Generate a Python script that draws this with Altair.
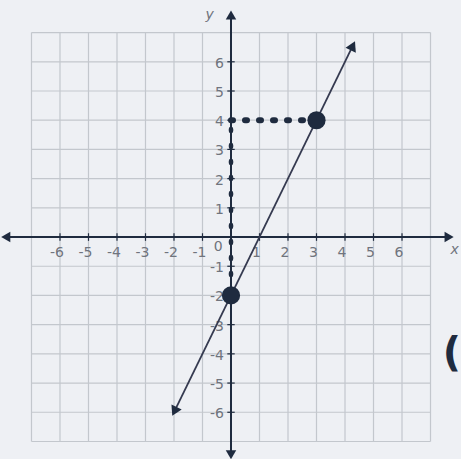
import altair as alt
import pandas as pd

# Coordinate plane: grid from -7 to 7, labelled ticks from -6 to 6
grid_values = list(range(-7, 8))
tick_values = [-6, -5, -4, -3, -2, -1, 1, 2, 3, 4, 5, 6]

# Line y = 2x - 2 drawn between its two arrowheads
line_x = [-1.96, 4.25]
line_y = [-5.92, 6.5]

# Highlighted points on the line
point_x = [0, 3]
point_y = [-2, 4]

# Dotted guide lines from the point (3, 4) to the y-axis and down the axis
guide_h_x = [0, 3]
guide_h_y = [4, 4]
guide_v_x = [0, 0]
guide_v_y = [-1.3, 4]

INK = "#1f2b3f"
GRID = "#c3c7cd"
LABEL = "#70747d"
BG = "#eef0f4"

xs = alt.Scale(domain=[-8.105, 8.07], nice=False, zero=False)
ys = alt.Scale(domain=[-7.60, 8.116], nice=False, zero=False)


def X(field="x"):
    return alt.X(field, type="quantitative", scale=xs, axis=None)


def Y(field="y"):
    return alt.Y(field, type="quantitative", scale=ys, axis=None)


# Grid lines
vgrid = pd.DataFrame({"x": grid_values, "y": -7.0, "y2": 7.0})
hgrid = pd.DataFrame({"y": grid_values, "x": -7.0, "x2": 7.0})
grid_v = alt.Chart(vgrid).mark_rule(color=GRID, strokeWidth=1.2).encode(
    x=X(), y=Y(), y2="y2:Q"
)
grid_h = alt.Chart(hgrid).mark_rule(color=GRID, strokeWidth=1.2).encode(
    y=Y(), x=X(), x2="x2:Q"
)

# Axes
x_axis = alt.Chart(pd.DataFrame({"x": [-7.85], "x2": [7.6], "y": [0]})).mark_rule(
    color=INK, strokeWidth=2
).encode(x=X(), x2="x2:Q", y=Y())
y_axis = alt.Chart(pd.DataFrame({"x": [0], "y": [-7.4], "y2": [7.55]})).mark_rule(
    color=INK, strokeWidth=2
).encode(x=X(), y=Y(), y2="y2:Q")

# Axis arrowheads
arrows = pd.DataFrame(
    {
        "x": [-7.85, 7.6, 0, 0],
        "y": [0, 0, 7.55, -7.4],
        "angle": [270, 90, 0, 180],
    }
)
axis_arrows = alt.Chart(arrows).mark_point(
    shape="triangle", filled=True, color=INK, size=110, opacity=1
).encode(x=X(), y=Y(), angle=alt.Angle("angle:Q", scale=None))

# Tick marks
xt = pd.DataFrame({"x": tick_values, "y": -0.13, "y2": 0.13})
yt = pd.DataFrame({"y": tick_values, "x": -0.13, "x2": 0.13})
x_ticks = alt.Chart(xt).mark_rule(color=INK, strokeWidth=1.2).encode(
    x=X(), y=Y(), y2="y2:Q"
)
y_ticks = alt.Chart(yt).mark_rule(color=INK, strokeWidth=1.2).encode(
    y=Y(), x=X(), x2="x2:Q"
)

# Tick labels
xl = pd.DataFrame({"x": tick_values, "y": -0.55, "t": [str(v) for v in tick_values]})
yl = pd.DataFrame({"y": tick_values, "x": -0.25, "t": [str(v) for v in tick_values]})
x_labels = alt.Chart(xl).mark_text(
    font="DejaVu Sans", fontSize=14, color=LABEL, align="center", baseline="middle", dx=-3
).encode(x=X(), y=Y(), text="t:N")
y_labels = alt.Chart(yl).mark_text(
    font="DejaVu Sans", fontSize=14, color=LABEL, align="right", baseline="middle", dy=2
).encode(x=X(), y=Y(), text="t:N")
origin_label = alt.Chart(pd.DataFrame({"x": [-0.45], "y": [-0.35], "t": ["0"]})).mark_text(
    font="DejaVu Sans", fontSize=14, color=LABEL, align="center", baseline="middle"
).encode(x=X(), y=Y(), text="t:N")

# Axis names
names = pd.DataFrame({"x": [-0.75, 7.85], "y": [7.6, -0.45], "t": ["y", "x"]})
axis_names = alt.Chart(names).mark_text(
    font="DejaVu Sans", fontSize=14, fontStyle="italic", color=LABEL, align="center",
    baseline="middle"
).encode(x=X(), y=Y(), text="t:N")

# The graphed line and its arrowheads
ld = pd.DataFrame({"x": line_x, "y": line_y})
graph_line = alt.Chart(ld).mark_line(color="#353a50", strokeWidth=1.8).encode(
    x=X(), y=Y()
)
line_arrows = alt.Chart(
    pd.DataFrame({"x": line_x, "y": line_y, "angle": [206, 26]})
).mark_point(shape="triangle", filled=True, color=INK, size=130, opacity=1).encode(
    x=X(), y=Y(), angle=alt.Angle("angle:Q", scale=None)
)

# Dotted guides
gh = alt.Chart(pd.DataFrame({"x": guide_h_x, "y": guide_h_y})).mark_line(
    color=INK, strokeWidth=6, strokeDash=[2, 12], strokeCap="round"
).encode(x=X(), y=Y())
gv = alt.Chart(pd.DataFrame({"x": guide_v_x, "y": guide_v_y})).mark_line(
    color=INK, strokeWidth=4.5, strokeDash=[2, 14], strokeCap="round"
).encode(x=X(), y=Y(), order=alt.Order("y:Q"))

# Plotted points
pts = alt.Chart(pd.DataFrame({"x": point_x, "y": point_y})).mark_circle(
    color=INK, size=330, opacity=1
).encode(x=X(), y=Y())

# Bracket at the right margin
paren = alt.Chart(pd.DataFrame({"x": [8.07], "y": [-4.0], "t": ["("]})).mark_text(
    font="DejaVu Sans", fontSize=40, fontWeight="bold", color=INK, align="right",
    baseline="middle"
).encode(x=X(), y=Y(), text="t:N")

chart = alt.layer(
    grid_v, grid_h, x_axis, y_axis, axis_arrows, x_ticks, y_ticks,
    x_labels, y_labels, origin_label, axis_names,
    gv, gh, graph_line, line_arrows, pts, paren,
).properties(
    width=461, height=459, background=BG, padding=0,
    autosize=alt.AutoSizeParams(type="none"),
).configure_view(stroke=None)

chart.save("out.html", embed_options={"renderer": "svg", "actions": False})
